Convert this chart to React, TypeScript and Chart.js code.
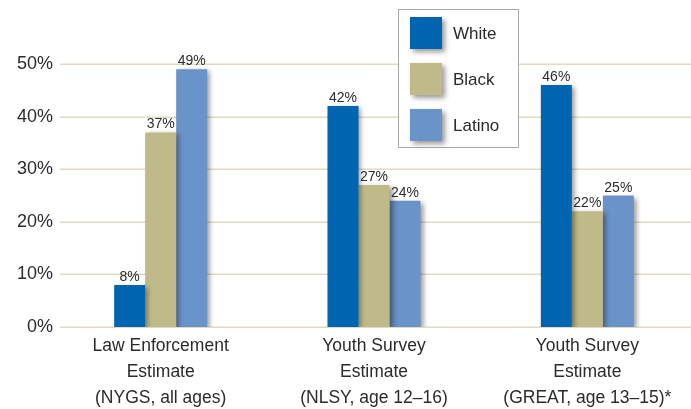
import React, { useEffect, useRef } from "react";
import { Chart, registerables } from "chart.js";

Chart.register(...registerables);

const categories: string[][] = [
  ["Law Enforcement", "Estimate", "(NYGS, all ages)"],
  ["Youth Survey", "Estimate", "(NLSY, age 12–16)"],
  ["Youth Survey", "Estimate", "(GREAT, age 13–15)*"],
];
const seriesNames = ["White", "Black", "Latino"];
const whiteValues = [8, 42, 46];
const blackValues = [37, 27, 22];
const latinoValues = [49, 24, 25];
const seriesColors = ["#0065b0", "#c0ba8b", "#6a93c9"];
const yTicks = [0, 10, 20, 30, 40, 50];

const FONT = "'Liberation Sans', Arial, Helvetica, sans-serif";
const TEXT = "#2b2b2b";

const gridPlugin = {
  id: "customGrid",
  beforeDatasetsDraw(chart: any) {
    const { ctx } = chart;
    const y = chart.scales.y;
    ctx.save();
    ctx.strokeStyle = "#dfdbc2";
    ctx.lineWidth = 1.5;
    yTicks.forEach((v) => {
      const py = Math.round(y.getPixelForValue(v)) + 0.25;
      ctx.beginPath();
      ctx.moveTo(60, py);
      ctx.lineTo(691, py);
      ctx.stroke();
    });
    ctx.restore();
  },
  beforeDatasetDraw(chart: any) {
    const { ctx } = chart;
    ctx.save();
    ctx.shadowColor = "rgba(0,0,0,0.4)";
    ctx.shadowBlur = 5;
    ctx.shadowOffsetX = 3;
    ctx.shadowOffsetY = 2;
  },
  afterDatasetDraw(chart: any) {
    chart.ctx.restore();
  },
  afterDatasetsDraw(chart: any) {
    const { ctx } = chart;
    ctx.save();
    ctx.font = `14px ${FONT}`;
    ctx.fillStyle = TEXT;
    ctx.textAlign = "center";
    ctx.textBaseline = "alphabetic";
    chart.data.datasets.forEach((ds: any, di: number) => {
      const meta = chart.getDatasetMeta(di);
      meta.data.forEach((bar: any, i: number) => {
        ctx.fillText(ds.data[i] + "%", bar.x, bar.y - 4);
      });
    });
    ctx.restore();
  },
  afterDraw(chart: any) {
    const { ctx } = chart;
    ctx.save();
    ctx.fillStyle = "#ffffff";
    ctx.fillRect(398, 9, 120, 138);
    ctx.strokeStyle = "#a9a9a9";
    ctx.lineWidth = 1;
    ctx.strokeRect(398.5, 9.5, 120, 138);
    const tops = [17, 63, 109];
    seriesNames.forEach((name, i) => {
      ctx.save();
      ctx.shadowColor = "rgba(0,0,0,0.4)";
      ctx.shadowBlur = 5;
      ctx.shadowOffsetX = 3;
      ctx.shadowOffsetY = 3;
      ctx.fillStyle = seriesColors[i];
      ctx.fillRect(410, tops[i], 32, 32);
      ctx.restore();
      ctx.fillStyle = TEXT;
      ctx.font = `17px ${FONT}`;
      ctx.textAlign = "left";
      ctx.textBaseline = "middle";
      ctx.fillText(name, 453, tops[i] + 17);
    });
    ctx.restore();
  },
};

export default function App() {
  const ref = useRef<HTMLCanvasElement>(null);
  useEffect(() => {
    if (!ref.current) return;
    const chart = new Chart(ref.current, {
      type: "bar",
      data: {
        labels: categories,
        datasets: [whiteValues, blackValues, latinoValues].map((d, i) => ({
          label: seriesNames[i],
          data: d,
          backgroundColor: seriesColors[i],
          borderWidth: 0,
          categoryPercentage: 0.436,
          barPercentage: 1,
        })),
      },
      options: {
        responsive: false,
        animation: false,
        devicePixelRatio: 1,
        layout: { padding: { top: 64, right: 0, bottom: 0, left: 0 } },
        plugins: { legend: { display: false }, tooltip: { enabled: false } },
        scales: {
          x: {
            grid: { display: false, drawTicks: false },
            border: { display: false },
            ticks: {
              color: TEXT,
              font: { family: FONT, size: 17.5, lineHeight: "26px" } as any,
              padding: 6,
              maxRotation: 0,
              autoSkip: false,
            },
            afterFit: (s: any) => {
              s.height = 82;
            },
          },
          y: {
            min: 0,
            max: 50,
            grid: { display: false, drawTicks: false },
            border: { display: false },
            ticks: {
              stepSize: 10,
              color: TEXT,
              font: { family: FONT, size: 18 },
              padding: 1,
              callback: (v: any) => v + "%",
            },
            afterFit: (s: any) => {
              s.width = 54;
            },
          },
        },
      },
      plugins: [gridPlugin],
    });
    return () => chart.destroy();
  }, []);
  return (
    <div
      style={{
        position: "absolute",
        left: 0,
        top: 0,
        width: 691,
        height: 409,
        overflow: "hidden",
        background: "#fff",
      }}
    >
      <canvas ref={ref} width={694} height={409} style={{ width: 694, height: 409, display: "block" }} />
    </div>
  );
}
